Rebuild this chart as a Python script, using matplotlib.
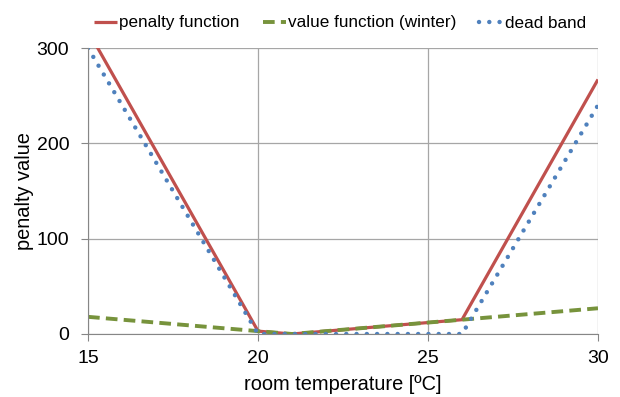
import matplotlib.pyplot as plt

plt.rcParams['font.family'] = ['Liberation Sans', 'DejaVu Sans']

# room temperature in degC
temps = [15, 16, 17, 18, 19, 20, 21, 22, 23, 24, 25, 26, 27, 28, 29, 30]
penalty = [318, 255, 192, 129, 66, 3, 0, 3, 6, 9, 12, 15, 78, 141, 204, 267]
value_winter = [18, 15, 12, 9, 6, 3, 0, 3, 6, 9, 12, 15, 18, 21, 24, 27]
dead_band = [300, 240, 180, 120, 60, 0, 0, 0, 0, 0, 0, 0, 60, 120, 180, 240]

fig = plt.figure(figsize=(6.2, 3.97), dpi=100)
ax = fig.add_axes([0.142, 0.1587, 0.8225, 0.7203])

ax.plot(temps, penalty, color='#C0504D', lw=2.3, label='penalty function', solid_capstyle='butt')
ax.plot(temps, value_winter, color='#77933C', lw=2.8, ls=(0, (3.0, 1.6)), label='value function (winter)')
ax.plot(temps, dead_band, color='#4F81BD', lw=3.2, ls=(0, (0.01, 2.3)), dash_capstyle='round',
        label='dead band')

ax.set_xlim(15, 30)
ax.set_ylim(0, 300)
ax.set_xticks([15, 20, 25, 30])
ax.set_yticks([0, 100, 200, 300])
ax.grid(True, color='#A6A6A6', lw=0.9)
ax.set_axisbelow(True)
for s in ['top', 'right']:
    ax.spines[s].set_visible(False)
for s in ['left', 'bottom']:
    ax.spines[s].set_color('#868686')
ax.tick_params(axis='both', direction='out', length=5, color='#868686', labelsize=14)
ax.tick_params(axis='x', pad=6.5)
ax.tick_params(axis='y', pad=8.5)

ax.set_xlabel('room temperature [ºC]', fontsize=14.4, labelpad=6)
ax.set_ylabel('penalty value', fontsize=14.4)
ax.yaxis.set_label_coords(-0.105, 0.5)

fig.legend(loc='center', bbox_to_anchor=(340 / 620, 1 - 23 / 397), ncol=3, frameon=False,
           fontsize=12.3, handlelength=1.35, handletextpad=0.12, columnspacing=1.35)

fig.savefig('out.png', dpi=100)
